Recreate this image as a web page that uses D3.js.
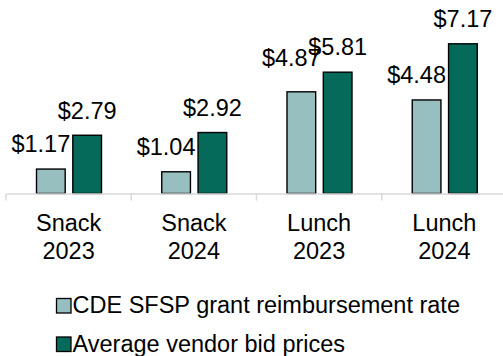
<!DOCTYPE html>
<html>
<head>
<meta charset="utf-8">
<script src="https://cdn.jsdelivr.net/npm/d3@7"></script>
<style>
  html, body { margin: 0; padding: 0; background: #fff; }
  svg { display: block; }
  text { font-family: "Liberation Sans", Arial, sans-serif; fill: #000; }
</style>
</head>
<body>
<script>
// Meal cost comparison: reimbursement rate vs. vendor bid prices
const categories = [["Snack", "2023"], ["Snack", "2024"], ["Lunch", "2023"], ["Lunch", "2024"]];
const seriesNames = ["CDE SFSP grant reimbursement rate", "Average vendor bid prices"];
const reimbursement = [1.17, 1.04, 4.87, 4.48];
const vendorBids = [2.79, 2.92, 5.81, 7.17];

const W = 503, H = 356;
const colors = ["#97bfc0", "#066a5b"];
const values = [reimbursement, vendorBids];
const catKeys = categories.map(c => c.join(" "));

const svg = d3.select("body").append("svg").attr("width", W).attr("height", H);

const baseY = 193.5;
const x0 = d3.scaleBand().domain(catKeys).range([6, 507]).paddingInner(0).paddingOuter(0);
const x1 = d3.scaleBand().domain(seriesNames).range([30.5, 95.5]).paddingInner(0.21);
const y = d3.scaleLinear().domain([0, 8]).range([baseY, baseY - 8 * 20.88]);

// bars
seriesNames.forEach((s, si) => {
  svg.append("g").selectAll("rect")
    .data(values[si])
    .join("rect")
    .attr("x", (d, i) => x0(catKeys[i]) + x1(s))
    .attr("y", d => y(d))
    .attr("width", x1.bandwidth())
    .attr("height", d => y(0) - y(d))
    .attr("fill", colors[si])
    .attr("stroke", "#000")
    .attr("stroke-width", 1.4);
});

// category axis
const axis = svg.append("g").attr("transform", `translate(0,${baseY})`)
  .call(d3.axisBottom(x0).tickSize(0).tickFormat(""));
axis.select(".domain").attr("stroke", "#d9d9d9").attr("stroke-width", 1.5);
axis.selectAll(".tick").remove();
axis.selectAll("line.sep")
  .data(catKeys)
  .join("line")
  .attr("class", "sep")
  .attr("x1", d => x0(d)).attr("x2", d => x0(d))
  .attr("y1", 0).attr("y2", 7)
  .attr("stroke", "#d9d9d9").attr("stroke-width", 1.5);

// two-line category labels
const catLabels = svg.append("g").selectAll("text")
  .data(categories)
  .join("text")
  .attr("text-anchor", "middle")
  .attr("font-size", 23.5)
  .attr("x", (d, i) => x0(catKeys[i]) + x0.bandwidth() / 2)
  .attr("y", 231);
catLabels.append("tspan").attr("x", (d, i) => x0(catKeys[i]) + x0.bandwidth() / 2).text(d => d[0]);
catLabels.append("tspan").attr("x", (d, i) => x0(catKeys[i]) + x0.bandwidth() / 2).attr("dy", 27.5).text(d => d[1]);

// value labels
const fmt = d => "$" + d3.format(".2f")(d);
const labelDx = [-10, 0];
const liftExtra = { "Lunch 2023": [9, 0] };
seriesNames.forEach((s, si) => {
  svg.append("g").selectAll("text")
    .data(values[si])
    .join("text")
    .attr("text-anchor", "middle")
    .attr("font-size", 23.5)
    .attr("x", (d, i) => x0(catKeys[i]) + x1(s) + x1.bandwidth() / 2 + labelDx[si])
    .attr("y", (d, i) => y(d) - 16.7 - ((liftExtra[catKeys[i]] || [0, 0])[si]))
    .text(fmt);
});

// legend
const legend = svg.append("g").selectAll("g")
  .data(seriesNames)
  .join("g")
  .attr("transform", (d, i) => `translate(56,${298 + i * 38.5})`);
legend.append("rect")
  .attr("x", 0.5).attr("y", 0.5).attr("width", 14.5).attr("height", 14.5)
  .attr("fill", (d, i) => colors[i])
  .attr("stroke", "#000").attr("stroke-width", 1.3);
legend.append("text")
  .attr("x", 16.5).attr("y", 15.3)
  .attr("font-size", 23.5)
  .text(d => d);
</script>
</body>
</html>
